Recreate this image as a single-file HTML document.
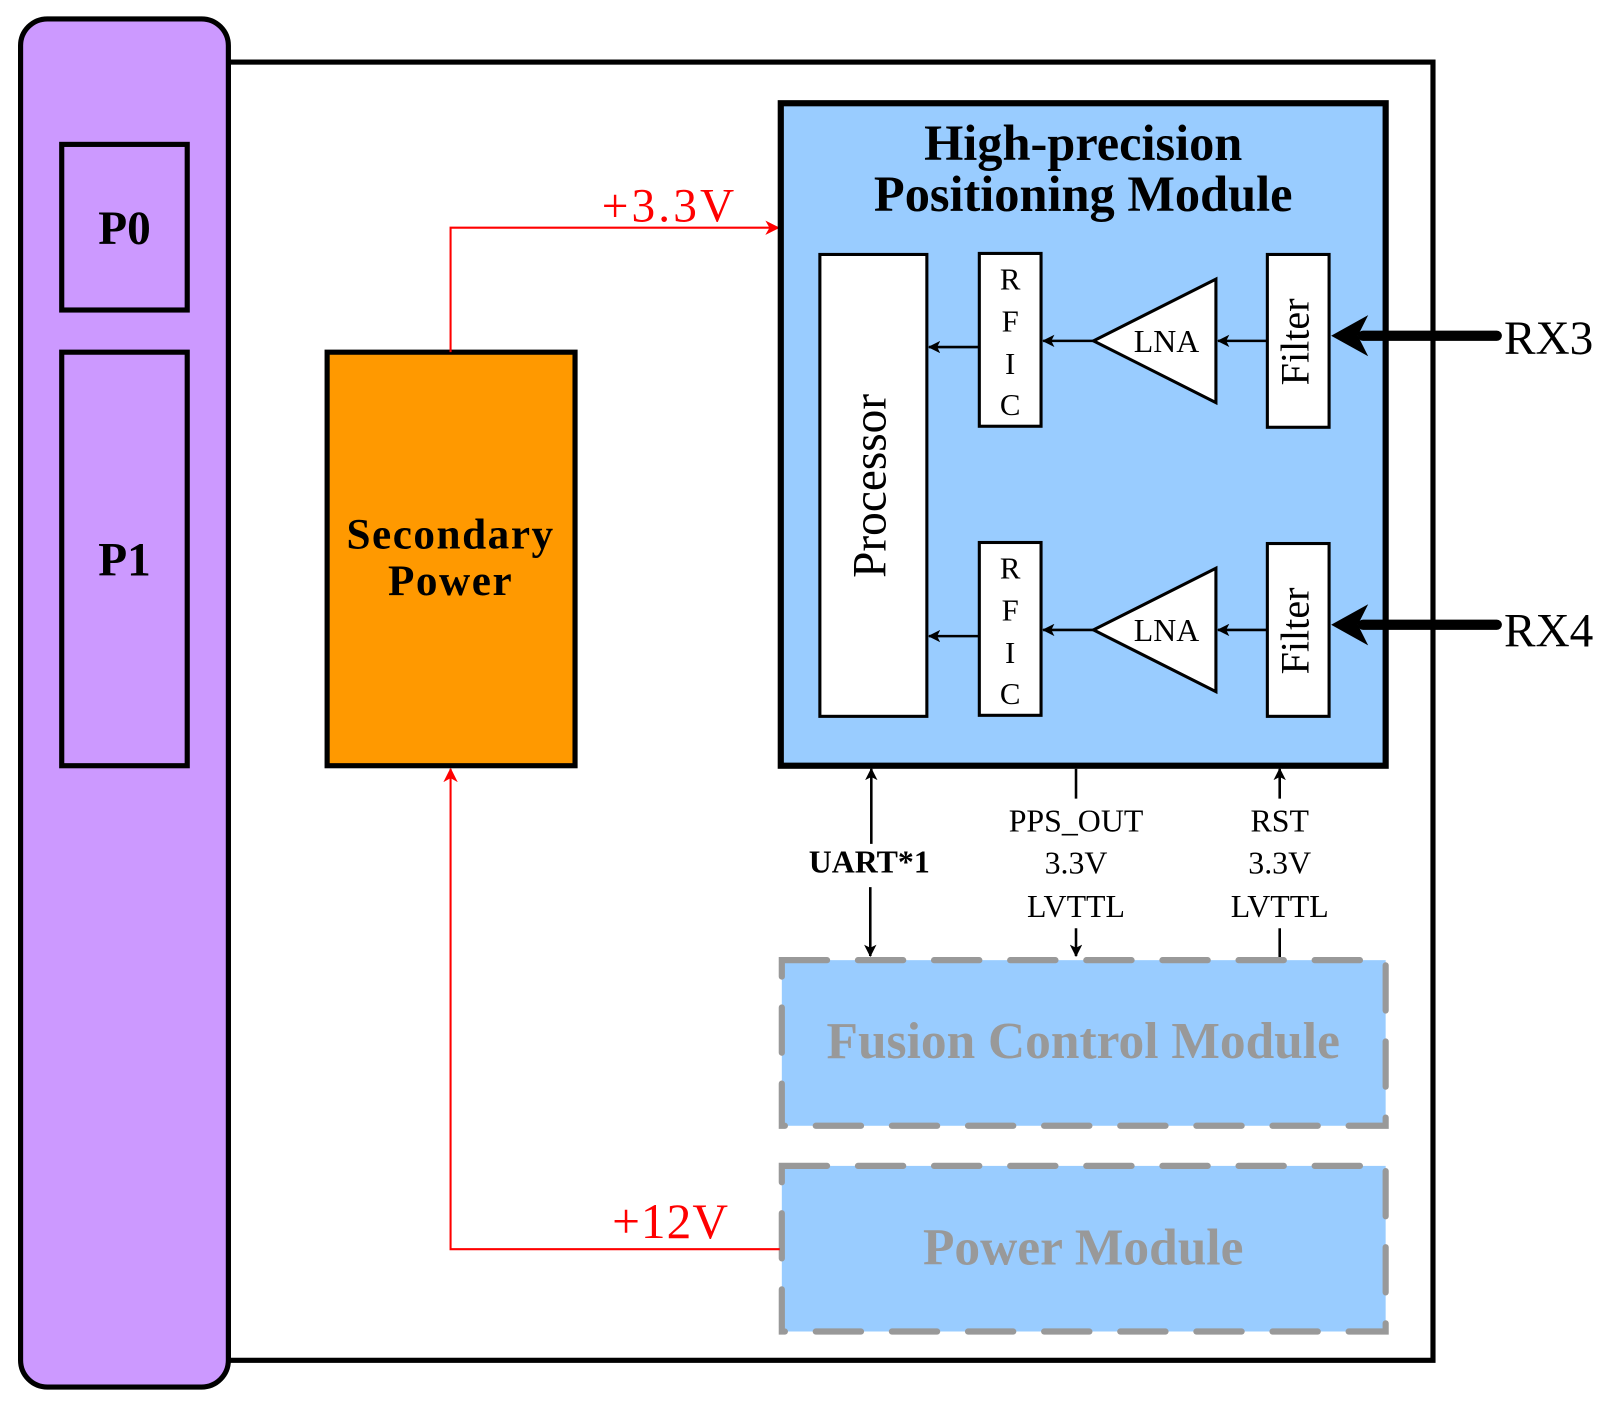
<!DOCTYPE html>
<html><head><style>html,body{margin:0;padding:0;background:#fff}svg{display:block}</style></head>
<body>
<svg width="1613" height="1408" viewBox="0 0 1568 1368" xmlns="http://www.w3.org/2000/svg" font-family="Liberation Serif, serif">
<defs>
<marker id="ar" markerWidth="14" markerHeight="14" refX="13" refY="7" orient="auto" markerUnits="userSpaceOnUse" viewBox="0 0 14 14"><path d="M0,0 L14,7 L0,14 L4,7z" fill="red"/></marker>
<marker id="ab" markerWidth="12" markerHeight="12" refX="11" refY="6" orient="auto-start-reverse" markerUnits="userSpaceOnUse" viewBox="0 0 12 12"><path d="M0,0 L12,6 L0,12 L3,6z" fill="#000"/></marker>
</defs>
<rect x="222" y="60" width="1171" height="1262" fill="#fff" stroke="#000" stroke-width="5"/>
<rect x="20" y="18" width="202" height="1330" rx="26" fill="#cc99ff" stroke="#000" stroke-width="5"/>
<rect x="60" y="140" width="122" height="161" fill="none" stroke="#000" stroke-width="5"/>
<text x="121" y="237" font-size="46" font-weight="bold" text-anchor="middle">P0</text>
<rect x="60" y="342" width="122" height="402" fill="none" stroke="#000" stroke-width="5"/>
<text x="121" y="559" font-size="46" font-weight="bold" text-anchor="middle">P1</text>
<rect x="318" y="342" width="241" height="402" fill="#ff9900" stroke="#000" stroke-width="5"/>
<text x="438" y="533" font-size="42" font-weight="bold" text-anchor="middle" letter-spacing="1.5">Secondary</text>
<text x="438" y="578" font-size="42" font-weight="bold" text-anchor="middle" letter-spacing="1.5">Power</text>
<polyline points="438,342 438,221 757,221" fill="none" stroke="red" stroke-width="2" marker-end="url(#ar)"/>
<text x="585" y="215" font-size="46" fill="red" letter-spacing="3">+3.3V</text>
<rect x="759" y="100" width="588" height="644" fill="#99ccff" stroke="#000" stroke-width="6"/>
<text x="1053" y="155" font-size="49" font-weight="bold" text-anchor="middle">High-precision</text>
<text x="1053" y="205" font-size="49" font-weight="bold" text-anchor="middle">Positioning Module</text>
<rect x="797" y="247" width="104" height="449" fill="#fff" stroke="#000" stroke-width="3"/>
<text transform="translate(861,472) rotate(-90)" font-size="46" text-anchor="middle">Processor</text>
<g id="row">
<rect x="952" y="246" width="60" height="168" fill="#fff" stroke="#000" stroke-width="3"/>
<text x="982" y="281" font-size="30" text-anchor="middle">R</text>
<text x="982" y="322" font-size="30" text-anchor="middle">F</text>
<text x="982" y="363" font-size="30" text-anchor="middle">I</text>
<text x="982" y="403" font-size="30" text-anchor="middle">C</text>
<polygon points="1063,331 1182,271 1182,391" fill="#fff" stroke="#000" stroke-width="3"/>
<text x="1134" y="342" font-size="31" text-anchor="middle">LNA</text>
<rect x="1232" y="247" width="60" height="168" fill="#fff" stroke="#000" stroke-width="3"/>
<text transform="translate(1272,332) rotate(-90)" font-size="39" text-anchor="middle">Filter</text>
<line x1="1232" y1="331" x2="1184" y2="331" stroke="#000" stroke-width="2.5" marker-end="url(#ab)"/>
<line x1="1063" y1="331" x2="1014" y2="331" stroke="#000" stroke-width="2.5" marker-end="url(#ab)"/>
<line x1="952" y1="337" x2="903" y2="337" stroke="#000" stroke-width="2.5" marker-end="url(#ab)"/>
<line x1="1455" y1="326" x2="1325" y2="326" stroke="#000" stroke-width="10" stroke-linecap="round"/>
<path d="M1294,326 L1330,306 L1320,326 L1330,346z" fill="#000"/>
</g>
<use href="#row" transform="translate(0,281)"/>
<text x="1462" y="344" font-size="46">RX3</text>
<text x="1462" y="628" font-size="46">RX4</text>
<line x1="847" y1="747" x2="847" y2="820" stroke="#000" stroke-width="2.5" marker-start="url(#ab)"/>
<line x1="846" y1="862" x2="846" y2="929" stroke="#000" stroke-width="2.5" marker-end="url(#ab)"/>
<text x="845" y="848" font-size="31" font-weight="bold" text-anchor="middle">UART*1</text>
<line x1="1046" y1="747" x2="1046" y2="776" stroke="#000" stroke-width="2.5"/>
<line x1="1046" y1="902" x2="1046" y2="929" stroke="#000" stroke-width="2.5" marker-end="url(#ab)"/>
<text x="1046" y="808" font-size="31" text-anchor="middle">PPS_OUT</text>
<text x="1046" y="849" font-size="31" text-anchor="middle">3.3V</text>
<text x="1046" y="891" font-size="31" text-anchor="middle">LVTTL</text>
<line x1="1244" y1="776" x2="1244" y2="747" stroke="#000" stroke-width="2.5" marker-end="url(#ab)"/>
<line x1="1244" y1="902" x2="1244" y2="933" stroke="#000" stroke-width="2.5"/>
<text x="1244" y="808" font-size="31" text-anchor="middle">RST</text>
<text x="1244" y="849" font-size="31" text-anchor="middle">3.3V</text>
<text x="1244" y="891" font-size="31" text-anchor="middle">LVTTL</text>
<rect x="760" y="933" width="587" height="161" fill="#99ccff" stroke="#999" stroke-width="6" stroke-dasharray="44 30" stroke-linecap="round"/>
<text x="1053" y="1028" font-size="50" font-weight="bold" fill="#999" text-anchor="middle">Fusion Control Module</text>
<rect x="760" y="1133" width="587" height="161" fill="#99ccff" stroke="#999" stroke-width="6" stroke-dasharray="44 30" stroke-linecap="round"/>
<text x="1053" y="1229" font-size="50" font-weight="bold" fill="#999" text-anchor="middle">Power Module</text>
<polyline points="758,1214 438,1214 438,747" fill="none" stroke="red" stroke-width="2" marker-end="url(#ar)"/>
<text x="595" y="1203" font-size="48" fill="red" letter-spacing="1">+12V</text>
</svg>
</body></html>
